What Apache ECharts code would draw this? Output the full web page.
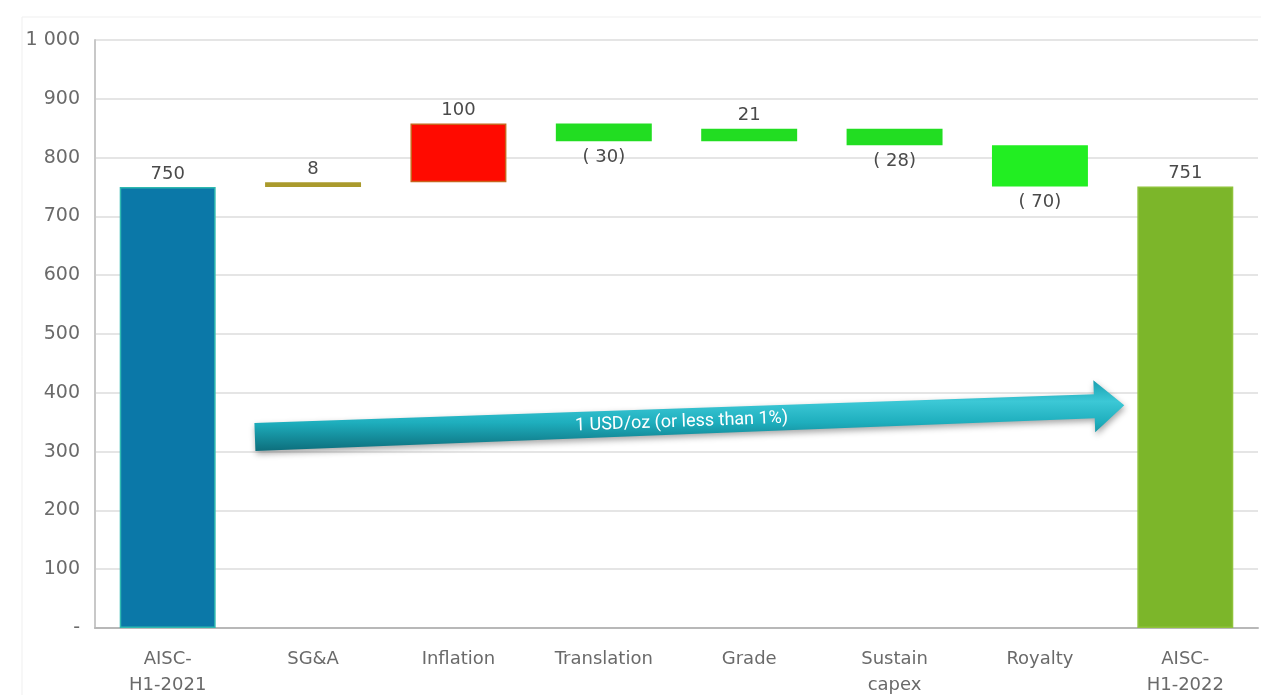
<!DOCTYPE html>
<html>
<head>
<meta charset="utf-8">
<script src="https://cdn.jsdelivr.net/npm/echarts@6/dist/echarts.min.js"></script>
<style>html,body{margin:0;padding:0;background:#fff}#c{width:1261px;height:695px}</style>
</head>
<body>
<div id="c"></div>
<script>
const categories = ['AISC-\nH1-2021', 'SG&A', 'Inflation', 'Translation', 'Grade', 'Sustain\ncapex', 'Royalty', 'AISC-\nH1-2022'];
const startValue = 750;
const deltas = [8, 100, -30, 21, -28, -70];
const endValue = 751;
const barColors = ['#0b78a8', '#aa9a2c', '#ff0a00', '#22dd22', '#22dd22', '#22dd22', '#22ee22', '#7cb62a'];
const borderColors = ['#2fb8b0', '#aa9a2c', '#c8641e', '#22dd22', '#22dd22', '#22dd22', '#22ee22', '#8ec23a'];
const yTicks = [0, 100, 200, 300, 400, 500, 600, 700, 800, 900, 1000];
const arrowText = '1 USD/oz (or less than 1%)';

// build waterfall
const base = [0];
const height = [startValue];
let run = startValue;
deltas.forEach(d => {
  const next = run + d;
  base.push(Math.min(run, next));
  height.push(Math.abs(d));
  run = next;
});
base.push(0);
height.push(endValue);
const signs = [1].concat(deltas.map(d => d < 0 ? -1 : 1)).concat([1]);
const labels = [startValue].concat(deltas).concat([endValue]);

const chart = echarts.init(document.getElementById('c'));
const font = 'DejaVu Sans';
chart.setOption({
  animation: false,
  grid: { left: 95, right: 3, top: 40, bottom: 67, containLabel: false, outerBoundsMode: 'none' },
  xAxis: {
    type: 'category',
    data: categories,
    axisTick: { show: false },
    axisLine: { lineStyle: { color: '#b8b8b8', width: 2 } },
    axisLabel: { color: '#6a6a6a', fontFamily: font, fontSize: 18, margin: 18, lineHeight: 26, interval: 0 }
  },
  yAxis: {
    type: 'value', min: yTicks[0], max: yTicks[yTicks.length - 1], interval: yTicks[1] - yTicks[0],
    axisLine: { show: true, lineStyle: { color: '#c8c8c8', width: 2 } },
    axisTick: { show: false },
    splitLine: { lineStyle: { color: '#dcdcdc', width: 1.5 } },
    axisLabel: {
      color: '#6a6a6a', fontFamily: font, fontSize: 19, margin: 15,
      formatter: v => v === 0 ? '-' : (v >= 1000 ? String(v).replace(/\B(?=(\d{3})+(?!\d))/g, ' ') : String(v))
    }
  },
  series: [
    {
      type: 'bar', stack: 'w', data: base, silent: true,
      itemStyle: { color: 'transparent' }, barWidth: '66%'
    },
    {
      type: 'bar', stack: 'w', barWidth: '66%',
      data: height.map((h, i) => ({
        value: h,
        itemStyle: { color: barColors[i], borderColor: borderColors[i], borderWidth: 1.5 },
        label: {
          show: true,
          position: signs[i] < 0 ? 'bottom' : 'top',
          distance: signs[i] < 0 ? 7 : 4,
          formatter: () => labels[i] < 0 ? '( ' + Math.abs(labels[i]) + ')' : String(labels[i]),
          color: '#4a4a4a', fontFamily: font, fontSize: 18
        }
      }))
    }
  ]
});

function drawArrow() {
  const x0 = chart.convertToPixel({ xAxisIndex: 0 }, categories[0]);
  const x1 = chart.convertToPixel({ xAxisIndex: 0 }, categories[1]);
  const x7 = chart.convertToPixel({ xAxisIndex: 0 }, categories[7]);
  const cw = x1 - x0;
  const sx = x0 + 0.6 * cw;
  const tx = x7 - 0.42 * cw;
  const sy = chart.convertToPixel({ yAxisIndex: 0 }, 325);
  const ty = chart.convertToPixel({ yAxisIndex: 0 }, 379);
  const dx = tx - sx, dy = ty - sy;
  const len = Math.sqrt(dx * dx + dy * dy);
  const ux = dx / len, uy = dy / len;
  const nx = -uy, ny = ux;
  const hb = [tx - ux * 30, ty - uy * 30];
  const P = (p, k) => [p[0] + nx * k, p[1] + ny * k];
  const pts = [
    P([sx, sy], -14), P(hb, -12), P(hb, -26), [tx, ty], P(hb, 26), P(hb, 12), P([sx, sy], 14)
  ];
  const mx = (sx + tx) / 2, my = (sy + ty) / 2;
  chart.setOption({
    graphic: [
      {
        type: 'rect', z: 0, silent: true,
        shape: { x: 22, y: 17, width: 1300, height: 700 },
        style: { fill: 'none', stroke: '#efefef', lineWidth: 1 }
      },
      {
        type: 'polygon', z: 100,
        shape: { points: pts },
        style: {
          fill: new echarts.graphic.LinearGradient(0, 0, 0, 1, [
            { offset: 0, color: '#1aa0b0' },
            { offset: 0.3, color: '#3cc8d6' },
            { offset: 0.6, color: '#1eaebd' },
            { offset: 1, color: '#0d6e7c' }
          ]),
          shadowBlur: 6, shadowColor: 'rgba(0,0,0,0.35)', shadowOffsetY: 3, shadowOffsetX: 1
        }
      },
      {
        type: 'text', z: 101,
        x: mx - 8, y: my + 1,
        rotation: -Math.atan2(dy, dx),
        style: {
          text: arrowText, fill: '#ffffff', font: '18px Roboto',
          textAlign: 'center', textVerticalAlign: 'middle'
        }
      }
    ]
  });
}
drawArrow();
</script>
</body>
</html>
